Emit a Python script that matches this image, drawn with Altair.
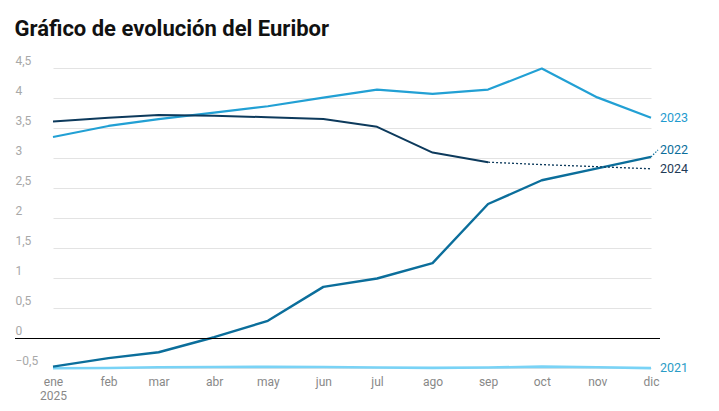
import altair as alt
import pandas as pd

# ---- data ----
months = ["2025-01-01", "2025-02-01", "2025-03-01", "2025-04-01", "2025-05-01", "2025-06-01",
          "2025-07-01", "2025-08-01", "2025-09-01", "2025-10-01", "2025-11-01", "2025-12-01"]
month_labels = ["ene", "feb", "mar", "abr", "may", "jun", "jul", "ago", "sep", "oct", "nov", "dic"]
series_names = ["2021", "2022", "2023", "2024"]

v2021 = [-0.505, -0.501, -0.487, -0.484, -0.481, -0.484, -0.491, -0.498, -0.492, -0.477, -0.487, -0.502]
v2022 = [-0.477, -0.335, -0.237, 0.013, 0.287, 0.852, 0.992, 1.249, 2.233, 2.629, 2.828, 3.018]
v2023 = [3.35, 3.534, 3.647, 3.757, 3.862, 4.007, 4.14, 4.07, 4.14, 4.49, 4.01, 3.67]
v2024 = [3.609, 3.671, 3.718, 3.703, 3.680, 3.650, 3.52, 3.09, 2.93]
v2024_forecast = [2.93, 2.89, 2.855, 2.82]
y_ticks = [-0.5, 0.0, 0.5, 1.0, 1.5, 2.0, 2.5, 3.0, 3.5, 4.0, 4.5]

line_colors = ["#79d3f6", "#0b6e9b", "#22a0d4", "#0d3a5c"]
label_colors = ["#2a9cc6", "#0b6e9b", "#1f9bcf", "#1f3b57"]

series_values = [v2021, v2022, v2023, v2024]
rows = []
for name, vals in zip(series_names, series_values):
    for m, v in zip(months, vals):
        rows.append({"serie": name, "mes": m, "valor": v})
df = pd.DataFrame(rows)
fc = pd.DataFrame({"mes": months[8:], "valor": v2024_forecast})
last_vals = [v2021[-1], v2022[-1], v2023[-1], v2024_forecast[-1]]

FONT = "Roboto"

month_expr = "[" + ",".join("'%s'" % m for m in month_labels) + "]"
x_label_expr = "utcmonth(datum.value) == 0 ? ['%s', '2025'] : %s[utcmonth(datum.value)]" % (month_labels[0], month_expr)

x_enc = alt.X(
    "mes:T",
    title=None,
    scale=alt.Scale(type="utc",
                    domain=[alt.DateTime(year=2025, month=1, date=1, utc=True),
                            alt.DateTime(year=2025, month=12, date=1, utc=True)],
                    range=[38, 636]),
    axis=alt.Axis(values=[alt.DateTime(year=2025, month=i, date=1, utc=True) for i in range(1, 13)],
                  labelExpr=x_label_expr, labelFlush=False, labelOverlap=False,
                  ticks=False, tickSize=0, domain=False, grid=False,
                  labelFont=FONT, labelFontSize=12, labelColor="#888888",
                  labelPadding=5, labelLineHeight=14.5),
)
y_enc = alt.Y(
    "valor:Q",
    title=None,
    scale=alt.Scale(domain=[-0.55, 4.75], nice=False, zero=False),
    axis=alt.Axis(values=y_ticks,
                  labelExpr="replace(format(datum.value, '.1~f'), '.', ',')",
                  labelAlign="left", labelBaseline="alphabetic", labelOffset=-4,
                  labelPadding=0, tickSize=0, ticks=False, domain=False,
                  grid=True, gridColor="#e3e3e3", gridWidth=1,
                  labelFlush=False, labelOverlap=False,
                  labelFont=FONT, labelFontSize=12, labelColor="#a8a8a8"),
)

lines = alt.Chart(df).mark_line(strokeJoin="round").encode(
    x=x_enc,
    y=y_enc,
    color=alt.Color("serie:N", scale=alt.Scale(domain=series_names, range=line_colors), legend=None),
    strokeWidth=alt.StrokeWidth("serie:N", scale=alt.Scale(domain=series_names, range=[2.6, 2, 2, 2]), legend=None),
    detail="serie:N",
)

zero = alt.Chart(pd.DataFrame({"valor": [0.0]})).mark_rule(
    color="#000000", strokeWidth=1, yOffset=0.5
).encode(y=y_enc)

forecast = alt.Chart(fc).mark_line(color=line_colors[3], strokeWidth=1.3, strokeDash=[2, 2]).encode(
    x=x_enc, y=y_enc
)

connector = alt.Chart(pd.DataFrame({"mes": [months[-1]], "valor": [v2022[-1]]})).mark_rule(
    color=line_colors[1], strokeWidth=1.2, strokeDash=[1.5, 1.5], x2Offset=7, y2Offset=-7
).encode(x=x_enc, x2="mes:T", y=y_enc, y2="valor:Q")

label_layers = []
for name, val, col in zip(series_names, last_vals, label_colors):
    dy = -6.6 if name == "2022" else 0
    label_layers.append(
        alt.Chart(pd.DataFrame({"mes": [months[-1]], "valor": [val], "serie": [name]}))
        .mark_text(align="left", baseline="middle", dx=9, dy=dy, font=FONT, fontSize=12.5, color=col)
        .encode(x=x_enc, y=y_enc, text="serie:N")
    )

chart = alt.layer(lines, zero, forecast, connector, *label_layers).properties(
    width=645,
    height=318,
    autosize=alt.AutoSizeParams(type="none"),
    padding={"left": 7, "top": 45, "right": 50, "bottom": 31},
    background="white",
    title=alt.Title("Gráfico de evolución del Euribor", anchor="start", font=FONT, fontSize=22,
                    fontWeight="bold", color="#111111", offset=12),
).configure_view(strokeWidth=0)

chart.save("out.html", embed_options={"renderer": "svg", "actions": False})
